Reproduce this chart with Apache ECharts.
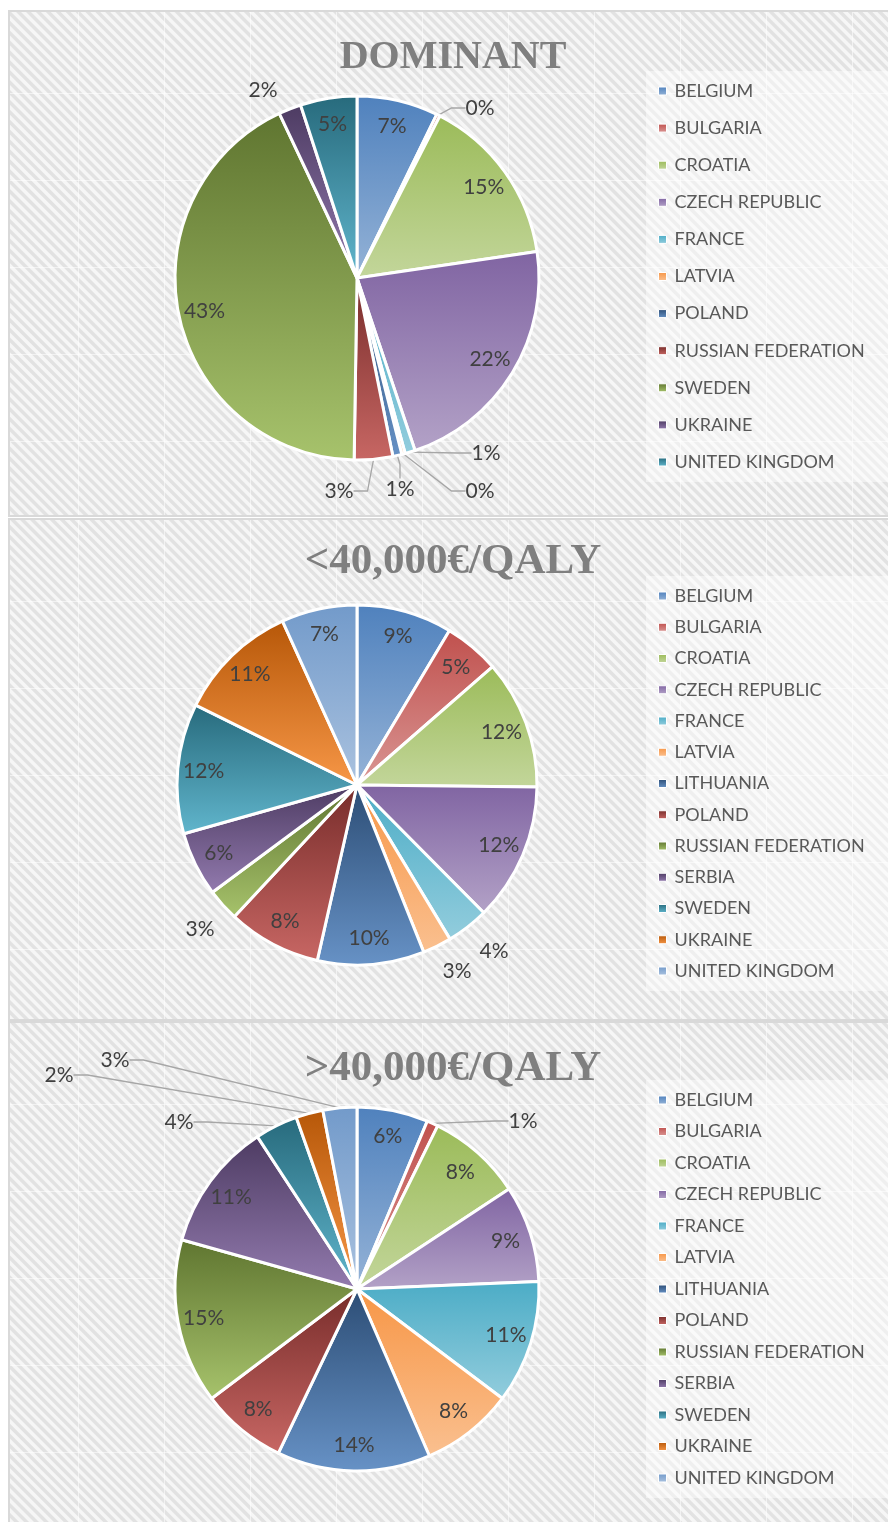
<!DOCTYPE html>
<html>
<head>
<meta charset="utf-8">
<title>Pie charts</title>
<script src="https://cdn.jsdelivr.net/npm/echarts@6.0.0/dist/echarts.min.js"></script>
<style>
  html, body { margin: 0; padding: 0; background: #fff; }
  .panel {
    position: absolute;
    left: 8px;
    width: 880px;
    box-sizing: border-box;
    border-top: 2px solid #d9d9d9;
    border-left: 2px solid #d9d9d9;
    background-color: #eeeeee;
    background-image:
      linear-gradient(to right, rgba(255, 255, 255, 0.55) 1px, transparent 1px),
      linear-gradient(to bottom, rgba(255, 255, 255, 0.55) 1px, transparent 1px),
      repeating-linear-gradient(45deg, #f6f6f6 0px, #f6f6f6 2.5px, #e2e2e2 3.5px, #e2e2e2 6px, #f6f6f6 7px);
    background-size: 86px 87px, 86px 87px, auto;
    background-position: 68px 81px, 68px 81px, 0 0;
  }
  .chart { width: 100%; height: 100%; }
</style>
</head>
<body>
<div class="panel" style="top: 10px; height: 507px; border-bottom: 2px solid #d9d9d9;"><div id="pie1" class="chart"></div></div>
<div class="panel" style="top: 518px; height: 503px; border-bottom: 2px solid #d9d9d9;"><div id="pie2" class="chart"></div></div>
<div class="panel" style="top: 1021px; height: 501px;"><div id="pie3" class="chart"></div></div>

<script>
// ---- data (share of studies per country, %) ----
const countriesDominant = ["BELGIUM", "BULGARIA", "CROATIA", "CZECH REPUBLIC", "FRANCE", "LATVIA",
  "POLAND", "RUSSIAN FEDERATION", "SWEDEN", "UKRAINE", "UNITED KINGDOM"];
const countriesQaly = ["BELGIUM", "BULGARIA", "CROATIA", "CZECH REPUBLIC", "FRANCE", "LATVIA",
  "LITHUANIA", "POLAND", "RUSSIAN FEDERATION", "SERBIA", "SWEDEN", "UKRAINE", "UNITED KINGDOM"];

const dominantShare = [7.2, 0.3, 15.1, 22.1, 0.9, 0.3, 0.8, 3.4, 42.6, 2.0, 5.0];
const below40kShare = [8.6, 5.0, 11.6, 12.4, 3.8, 2.6, 9.6, 8.4, 2.9, 5.8, 11.7, 10.9, 6.8];
const above40kShare = [6.3, 1.0, 8.4, 8.6, 10.9, 8.2, 13.6, 7.6, 14.6, 11.4, 3.8, 2.4, 3.0];

const panelTitles = ["DOMINANT", "<40,000€/QALY", ">40,000€/QALY"];

// office 2010 colours, taken in series order
const palette = ["#4F81BD", "#C0504D", "#9BBB59", "#8064A2", "#4BACC6", "#F79646",
  "#2C4D75", "#772C2A", "#5F7530", "#4D3B62", "#276A7C", "#B65708", "#729ACA"];

// lighter version of a colour (hsl lightness pushed towards white)
function tint(hex, k) {
  const r = parseInt(hex.slice(1, 3), 16) / 255;
  const g = parseInt(hex.slice(3, 5), 16) / 255;
  const b = parseInt(hex.slice(5, 7), 16) / 255;
  const max = Math.max(r, g, b), min = Math.min(r, g, b);
  let h = 0, s = 0, l = (max + min) / 2;
  if (max !== min) {
    const d = max - min;
    s = l > 0.5 ? d / (2 - max - min) : d / (max + min);
    if (max === r) h = (g - b) / d + (g < b ? 6 : 0);
    else if (max === g) h = (b - r) / d + 2;
    else h = (r - g) / d + 4;
    h /= 6;
  }
  l = l + (1 - l) * k;
  const q = l < 0.5 ? l * (1 + s) : l + s - l * s;
  const p = 2 * l - q;
  function hue2rgb(t) {
    if (t < 0) t += 1;
    if (t > 1) t -= 1;
    if (t < 1 / 6) return p + (q - p) * 6 * t;
    if (t < 1 / 2) return q;
    if (t < 2 / 3) return p + (q - p) * (2 / 3 - t) * 6;
    return p;
  }
  return "rgb(" + [h + 1 / 3, h, h - 1 / 3].map(function (t) {
    return Math.round(hue2rgb(t) * 255);
  }).join(",") + ")";
}

// vertical gradient per slice, like the excel style
function sliceFill(hex) {
  return new echarts.graphic.LinearGradient(0, 0, 0, 1, [
    { offset: 0, color: hex },
    { offset: 1, color: tint(hex, 0.4) }
  ]);
}

const labelFont = { fontFamily: "Lato", fontSize: 21, color: "#404040" };

function pct(p) {
  return Math.round(p.percent) + "%";
}

function makePie(domId, cfg) {
  const chart = echarts.init(document.getElementById(domId));
  const spots = cfg.spots;

  const data = cfg.names.map(function (name, i) {
    const spot = spots[i];
    return {
      name: name,
      value: cfg.values[i],
      itemStyle: { color: sliceFill(palette[i]) },
      label: { show: !!spot },
      labelLine: { show: !!(spot && spot.line) }
    };
  });
  // transparent ring only used to put the inner labels near the rim
  const ringData = cfg.names.map(function (name, i) {
    return { name: name, value: cfg.values[i], label: { show: !spots[i] } };
  });

  chart.setOption({
    animation: false,
    title: {
      text: cfg.title,
      left: 443,
      top: cfg.titleTop,
      textAlign: "center",
      padding: 0,
      textStyle: {
        fontFamily: "Liberation Serif",
        fontWeight: "bold",
        fontSize: cfg.titleSize,
        color: "#7f7f7f"
      }
    },
    legend: {
      orient: "vertical",
      left: 636,
      top: cfg.legendTop,
      padding: [10, 40, 10, 12],
      backgroundColor: "rgba(255,255,255,0.45)",
      icon: "rect",
      itemWidth: 8,
      itemHeight: 8,
      itemGap: cfg.legendGap,
      itemStyle: { borderColor: "#fff", borderWidth: 1 },
      selectedMode: false,
      textStyle: {
        fontFamily: "Lato",
        fontSize: 18,
        lineHeight: 20,
        color: "#595959",
        padding: [0, 0, 0, 3]
      },
      data: cfg.names
    },
    series: [
      {
        type: "pie",
        center: [347, cfg.centerY],
        radius: [0, cfg.r],
        startAngle: 90,
        clockwise: true,
        avoidLabelOverlap: false,
        itemStyle: { borderColor: "#fff", borderWidth: 3 },
        emphasis: { scale: false },
        label: Object.assign({ position: "outside", formatter: pct }, labelFont),
        labelLine: { length: 10, length2: 14, lineStyle: { color: "#a6a6a6", width: 1.3 } },
        labelLayout: function (p) {
          const s = spots[p.dataIndex];
          if (!s) return {};
          return { x: s.x, y: s.y, align: "center", verticalAlign: "middle" };
        },
        data: data
      },
      {
        type: "pie",
        center: [347, cfg.centerY],
        radius: [cfg.r - 58, cfg.r],
        startAngle: 90,
        clockwise: true,
        silent: true,
        legendHoverLink: false,
        itemStyle: { color: "rgba(0,0,0,0)", borderWidth: 0 },
        label: Object.assign({ position: "inside", formatter: pct }, labelFont),
        labelLine: { show: false },
        data: ringData
      }
    ]
  });
  return chart;
}

makePie("pie1", {
  title: panelTitles[0],
  titleSize: 40,
  names: countriesDominant,
  values: dominantShare,
  centerY: 266,
  r: 182,
  titleTop: 26,
  legendTop: 59,
  legendGap: 17.1,
  // outside labels: position of the text in the panel
  spots: {
    1: { x: 470, y: 96, line: true },
    4: { x: 476, y: 441, line: true },
    5: { x: 470, y: 479, line: true },
    6: { x: 390, y: 477, line: true },
    7: { x: 329, y: 479, line: true },
    9: { x: 253, y: 78, line: false }
  }
});

makePie("pie2", {
  title: panelTitles[1],
  titleSize: 43,
  names: countriesQaly,
  values: below40kShare,
  centerY: 265,
  r: 180,
  titleTop: 20,
  legendTop: 56,
  legendGap: 11.25,
  spots: {
    4: { x: 484, y: 431, line: false },
    5: { x: 447, y: 451, line: false },
    8: { x: 190, y: 409, line: false }
  }
});

makePie("pie3", {
  title: panelTitles[2],
  titleSize: 43,
  names: countriesQaly,
  values: above40kShare,
  centerY: 266,
  r: 182,
  titleTop: 24,
  legendTop: 57,
  legendGap: 11.5,
  spots: {
    1: { x: 513, y: 98, line: true },
    10: { x: 169, y: 99, line: true },
    11: { x: 49, y: 52, line: true },
    12: { x: 105, y: 37, line: true }
  }
});
</script>
</body>
</html>
